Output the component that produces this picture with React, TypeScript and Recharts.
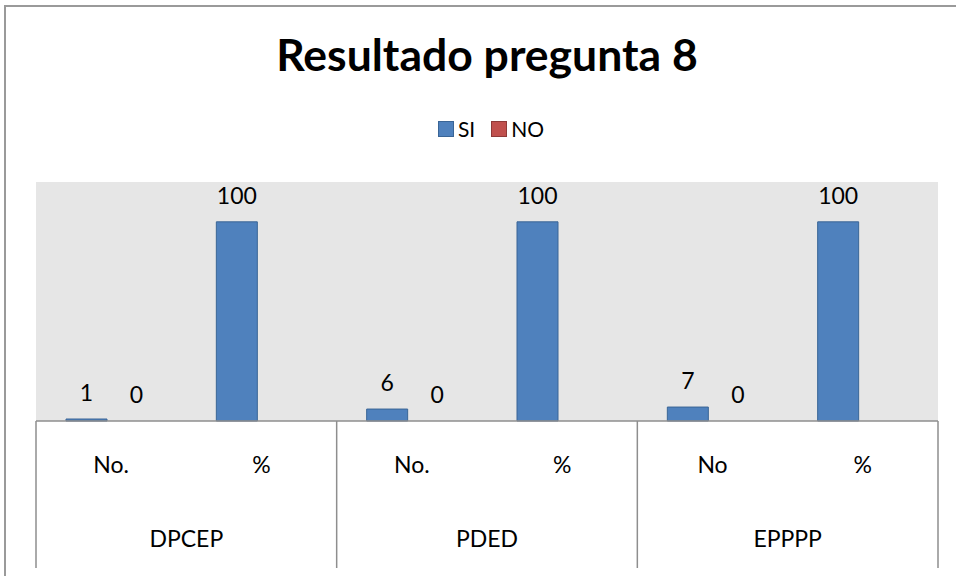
import { BarChart, Bar, XAxis, YAxis, LabelList, Legend, Rectangle } from "recharts";

const subLabels = ["No.", "%", "No.", "%", "No", "%"];
const groupLabels = ["DPCEP", "DPCEP", "PDED", "PDED", "EPPPP", "EPPPP"];
const siValues = [1, 100, 6, 100, 7, 100];
const noValues: (number | null)[] = [0, null, 0, null, 0, null];

const series = [
  { key: "si", name: "SI", fill: "#4F81BD", stroke: "#3A6596" },
  { key: "no", name: "NO", fill: "#C0504D", stroke: "#8E3A38" },
];

const data = subLabels.map((s, i) => ({
  id: `${groupLabels[i]}-${s}-${i}`,
  si: siValues[i],
  no: noValues[i],
}));

const FONT = "Lato, 'Open Sans', sans-serif";
const AXIS_GREY = "#8E8E8E";
const TEXT_SIZE = 23;

// two-level category axis: sub label on first row, group label + box lines below
const CategoryTick = (props: any) => {
  const { x, y, index, payload } = props;
  const half = payload?.offset ?? 75;
  const boxH = 147;
  return (
    <g>
      <text x={x} y={y + 52} textAnchor="middle" fontSize={TEXT_SIZE} fontFamily={FONT} fill="#000">
        {subLabels[index]}
      </text>
      {index % 2 === 0 && (
        <>
          <line x1={x - half} x2={x - half} y1={y} y2={y + boxH} stroke={AXIS_GREY} strokeWidth={1.5} />
          <text x={x + half} y={y + 126} textAnchor="middle" fontSize={TEXT_SIZE} fontFamily={FONT} fill="#000">
            {groupLabels[index]}
          </text>
        </>
      )}
      {index === subLabels.length - 1 && (
        <line x1={x + half} x2={x + half} y1={y} y2={y + boxH} stroke={AXIS_GREY} strokeWidth={1.5} />
      )}
    </g>
  );
};

const ValueLabel = (p: any) => {
  if (p.value == null) return null;
  return (
    <text
      x={p.x + p.width / 2}
      y={p.y - 18}
      textAnchor="middle"
      fontSize={TEXT_SIZE}
      fontFamily={FONT}
      fill="#000"
    >
      {p.value}
    </text>
  );
};

// zero bars keep a tiny height so their labels survive, but draw nothing
const BarShape = (p: any) => (Math.abs(p.height) < 1 ? <g /> : <Rectangle {...p} />);

const LegendContent = () => (
  <div style={{ display: "flex", justifyContent: "center", gap: 16, fontFamily: FONT, fontSize: 21 }}>
    {series.map((s) => (
      <div key={s.key} style={{ display: "flex", alignItems: "center", gap: 4 }}>
        <div style={{ width: 14, height: 14, background: s.fill, border: `1px solid ${s.stroke}` }} />
        <span>{s.name}</span>
      </div>
    ))}
  </div>
);

export default function App() {
  return (
    <div style={{ position: "absolute", left: 0, top: 0, width: 956, height: 576, background: "#fff", overflow: "hidden" }}>
      <div
        style={{
          position: "absolute",
          left: 4,
          top: 5,
          width: 980,
          height: 600,
          borderLeft: "2px solid #9A9A9A",
          borderTop: "2px solid #9A9A9A",
        }}
      />
      <div
        style={{
          position: "absolute",
          left: 0,
          top: 28,
          width: 974,
          textAlign: "center",
          fontFamily: FONT,
          fontWeight: 700,
          fontSize: 44.5,
          lineHeight: "52px",
          color: "#000",
        }}
      >
        Resultado pregunta 8
      </div>
      <BarChart
        width={956}
        height={576}
        data={data}
        margin={{ top: 182, right: 18, bottom: 0, left: 36 }}
        barGap={9}
        style={{ position: "absolute", left: 0, top: 0 }}
      >
        <Legend
          verticalAlign="middle"
          align="center"
          layout="horizontal"
          content={<LegendContent />}
          wrapperStyle={{ top: 116, left: 26, width: 930 }}
        />
        <rect x={36} y={182} width={902} height={239} fill="#E6E6E6" />
        <XAxis
          dataKey="id"
          height={155}
          interval={0}
          tickLine={false}
          tickSize={0}
          tickMargin={0}
          axisLine={{ stroke: AXIS_GREY, strokeWidth: 1.5 }}
          tick={<CategoryTick />}
        />
        <YAxis hide domain={[0, 120]} />
        {series.map((s) => (
          <Bar
            key={s.key}
            dataKey={s.key}
            name={s.name}
            fill={s.fill}
            stroke={s.stroke}
            strokeWidth={1}
            barSize={41}
            minPointSize={0.05}
            shape={<BarShape />}
            isAnimationActive={false}
          >
            <LabelList dataKey={s.key} content={<ValueLabel />} />
          </Bar>
        ))}
      </BarChart>
    </div>
  );
}
